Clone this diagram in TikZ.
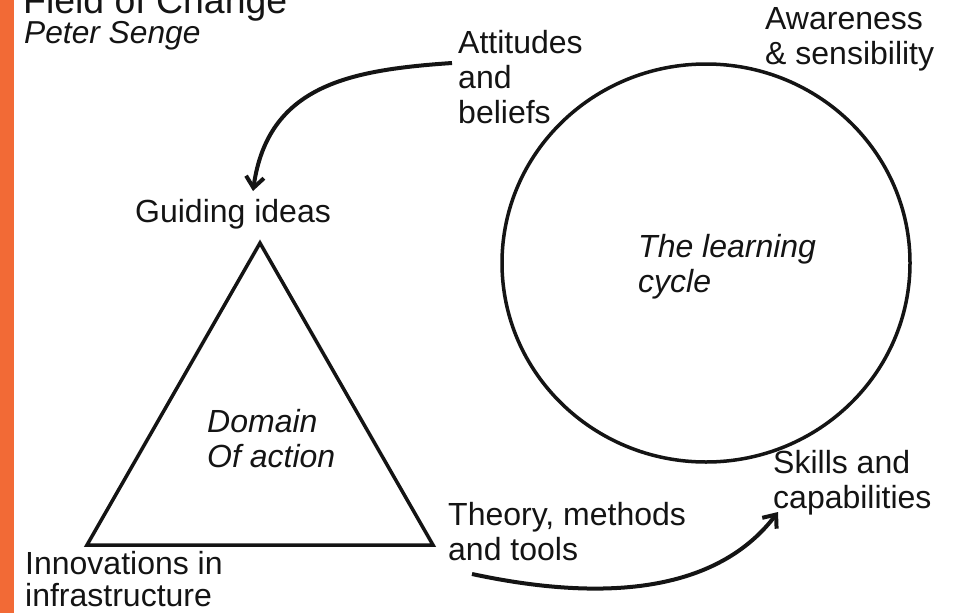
\documentclass[tikz,border=0pt]{standalone}
\usepackage{fontspec}
\setmainfont{Liberation Sans}
\usetikzlibrary{arrows.meta}
\definecolor{sidebar}{RGB}{242,106,54}
\definecolor{ink}{RGB}{20,20,20}
\begin{document}
\begin{tikzpicture}[x=1pt,y=-1pt,
  lbl/.style={inner sep=0pt, anchor=base west, align=left, text=ink,
    font=\fontsize{32}{35}\selectfont},
  ital/.style={lbl, font=\fontsize{32}{35}\selectfont\itshape},
  outline/.style={draw=ink, line width=3.5pt},
  arr/.style={draw=ink, line width=4pt,
    -{Straight Barb[length=11pt,width=18pt,line width=4pt]}}]
\useasboundingbox (0,0) rectangle (957,613);
\fill[white] (0,0) rectangle (957,613);
\fill[sidebar] (0,0) rectangle (14,613);

% titles
\node[lbl, font=\fontsize{37.4}{40}\selectfont] (title) at (23,13) {Field of Change};
\node[ital, font=\fontsize{31.7}{35}\selectfont\itshape] (author) at (24,43) {Peter Senge};

% shapes
\draw[outline] (260,243) coordinate (apex) -- (433,545) coordinate (br)
  -- (87,545) coordinate (bl) -- cycle;
\draw[outline] (706,263) coordinate (cc) ellipse [x radius=204, y radius=199];

% labels (anchor = baseline of the last line)
\node[lbl] (att) at (458,123) {Attitudes\\and\\beliefs};
\node[lbl] (aware) at (765,64) {Awareness\\\& sensibility};
\node[lbl] (guid) at (135,222) {Guiding ideas};
\node[ital] (cyc) at (638,292) {The learning\\cycle};
\node[ital] (dom) at (207,467) {Domain\\Of action};
\node[lbl] (skills) at (773,508) {Skills and\\capabilities};
\node[lbl] (theory) at (448,560) {Theory, methods\\and tools};
\node[lbl] (innov) at (25,606) {Innovations in\\[-3pt]infrastructure};

% connectors
\coordinate (a1s) at (452,63);
\coordinate (a1e) at (253,191);
\draw[arr] (a1s) .. controls (350,70) and (268,85) .. (a1e);
\coordinate (a2s) at (472,574);
\coordinate (a2e) at (778,512);
\draw[arr] (a2s) .. controls (640,610) and (730,575) .. (a2e);
\end{tikzpicture}
\end{document}
